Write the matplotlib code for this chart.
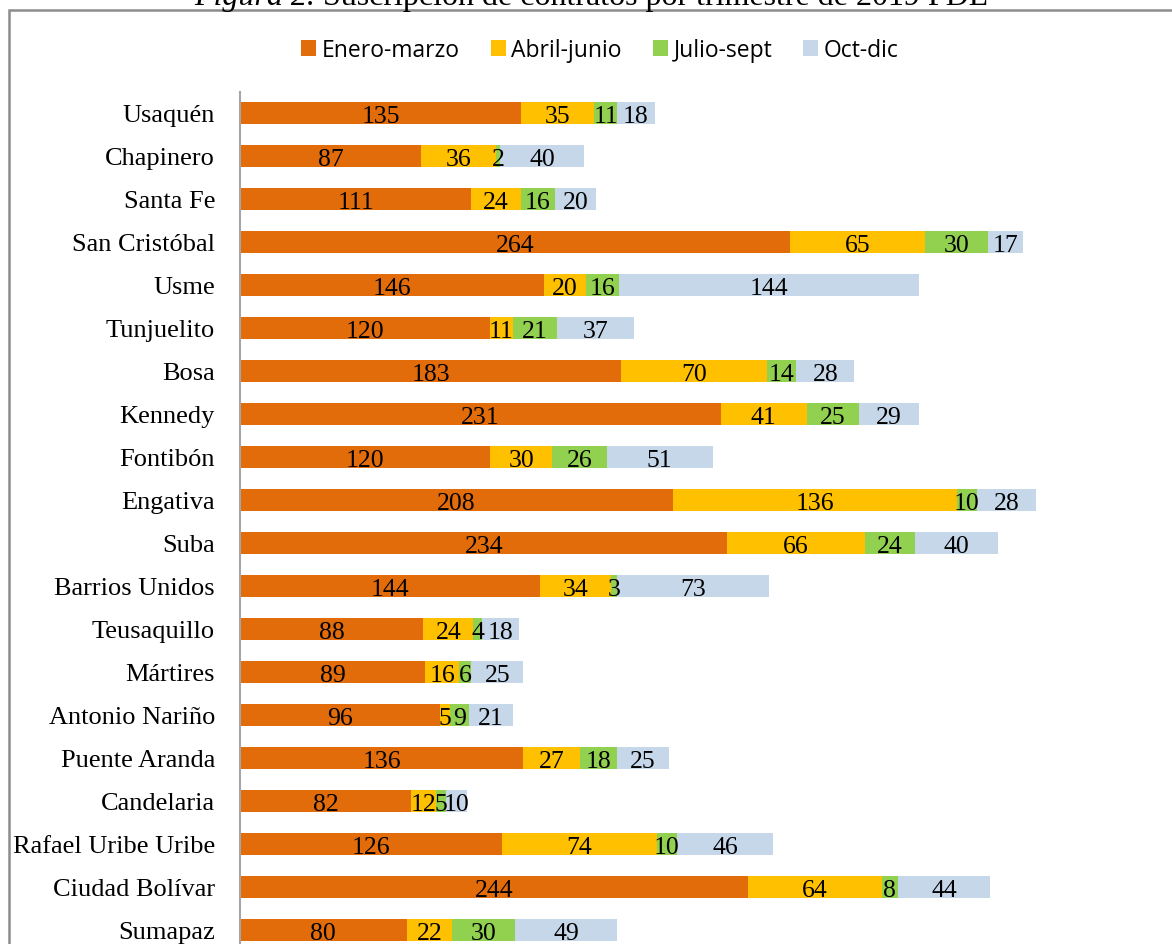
import matplotlib
matplotlib.use("Agg")
import matplotlib.pyplot as plt
import matplotlib.patches as mpatches
import numpy as np

categories = ["Usaquén", "Chapinero", "Santa Fe", "San Cristóbal", "Usme", "Tunjuelito",
              "Bosa", "Kennedy", "Fontibón", "Engativa", "Suba", "Barrios Unidos",
              "Teusaquillo", "Mártires", "Antonio Nariño", "Puente Aranda", "Candelaria",
              "Rafael Uribe Uribe", "Ciudad Bolívar", "Sumapaz"]
enero_marzo = [135, 87, 111, 264, 146, 120, 183, 231, 120, 208, 234, 144, 88, 89, 96, 136, 82, 126, 244, 80]
abril_junio = [35, 36, 24, 65, 20, 11, 70, 41, 30, 136, 66, 34, 24, 16, 5, 27, 12, 74, 64, 22]
julio_sept = [11, 2, 16, 30, 16, 21, 14, 25, 26, 10, 24, 3, 4, 6, 9, 18, 5, 10, 8, 30]
oct_dic = [18, 40, 20, 17, 144, 37, 28, 29, 51, 28, 40, 73, 18, 25, 21, 25, 10, 46, 44, 49]
series_names = ["Enero-marzo", "Abril-junio", "Julio-sept", "Oct-dic"]
colors = ["#E36C0A", "#FFC000", "#92D050", "#C6D7EA"]

W, H = 1172, 945
fig = plt.figure(figsize=(W / 100, H / 100), dpi=100)

# border
fig.patches.append(mpatches.Rectangle((8.5 / W, -0.1), 1.2, 1 - 11 / H + 0.1,
                                      transform=fig.transFigure, fill=False,
                                      edgecolor="#8C8C8C", linewidth=1.8))

# title (partially cut at top)
tsize = 23
t1 = fig.text(0, 1 - 5 / H, "Figura 2.", ha="left", va="baseline", style="italic",
              fontsize=tsize, family="Liberation Serif")
t2 = fig.text(0, 1 - 5 / H, " Suscripción de contratos por trimestre de 2019 FDL",
              ha="left", va="baseline", fontsize=tsize, family="Liberation Serif")
fig.canvas.draw()
r = fig.canvas.get_renderer()
w1 = t1.get_window_extent(r).width
w2 = t2.get_window_extent(r).width
x0 = 591.5 - (w1 + w2) / 2
t1.set_x(x0 / W)
t2.set_x((x0 + w1) / W)

n = len(categories)
slot = 43.0
top_px = 92.5
left_px = 240
xmax = 400
px_per_unit = 2.083
ax_h = slot * n
ax = fig.add_axes([left_px / W, 1 - (top_px + ax_h) / H, xmax * px_per_unit / W, ax_h / H])

y = np.arange(n)
data = [enero_marzo, abril_junio, julio_sept, oct_dic]
left = np.zeros(n)
handles = []
for vals, name, c in zip(data, series_names, colors):
    vals = np.array(vals, dtype=float)
    bars = ax.barh(y, vals, left=left, height=0.51, color=c, label=name)
    handles.append(bars)
    for yi, l, v in zip(y, left, vals):
        ax.text(l + v / 2, yi + 0.06, f"{int(v)}", ha="center", va="center",
                fontsize=18.5, family="Liberation Serif", color="black")
    left += vals

ax.set_ylim(n - 0.5, -0.5)
ax.set_xlim(0, xmax)
ax.set_yticks(y)
ax.set_yticklabels(categories, family="Liberation Serif", fontsize=19)
ax.tick_params(axis="y", length=0, pad=18)
ax.set_xticks([])
for s in ["top", "right", "bottom"]:
    ax.spines[s].set_visible(False)
ax.spines["left"].set_color("#A6A6A6")
ax.spines["left"].set_linewidth(1.5)

fig.legend(handles=handles, labels=series_names, loc="center", ncol=4,
           bbox_to_anchor=(600 / W, 1 - 51 / H), frameon=False,
           handlelength=0.65, handleheight=0.65, handletextpad=0.25,
           columnspacing=1.35, prop={"family": "Open Sans", "size": 16.5})

fig.savefig("out.png", dpi=100)
